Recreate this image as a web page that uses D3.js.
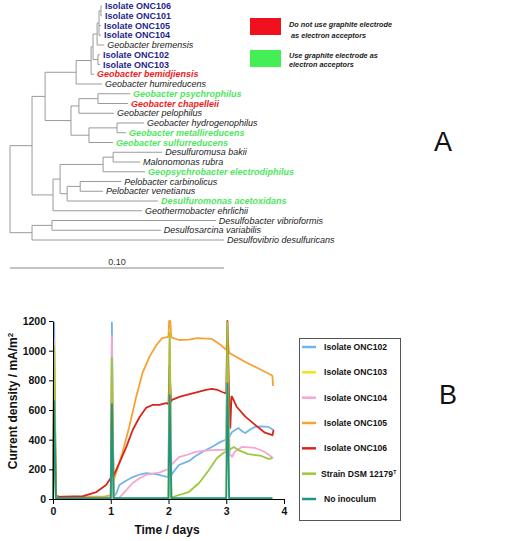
<!DOCTYPE html>
<html><head><meta charset="utf-8">
<script src="https://cdn.jsdelivr.net/npm/d3@7"></script>
<style>body{margin:0;background:#fff}svg{display:block}text{font-family:"Liberation Sans",Arial,sans-serif}</style>
</head><body>
<script>
// ---------- Panel A: tree data [id, parent, branch length, group] ----------
const treeNodes = [
  ["R", null, 0, null],
  ["N1", "R", 0.0103, null],
  ["G", "N1", 0.0061, null],
  ["G1", "G", 0.0145, null],
  ["E", "G1", 0.0070, null],
  ["Dn", "E", 0.0009, null],
  ["C", "Dn", 0.0019, null],
  ["B", "C", 0.0009, null],
  ["A", "B", 0.0009, null],
  ["Isolate ONC106", "A", 0.0005, "isolate"],
  ["Isolate ONC101", "A", 0.0005, "isolate"],
  ["Isolate ONC105", "B", 0.0009, "isolate"],
  ["Isolate ONC104", "B", 0.0009, "isolate"],
  ["Geobacter bremensis", "C", 0.0033, "other"],
  ["F", "Dn", 0.0023, null],
  ["Isolate ONC102", "F", 0.0009, "isolate"],
  ["Isolate ONC103", "F", 0.0009, "isolate"],
  ["Geobacter bemidjiensis", "E", 0.0014, "no"],
  ["Geobacter humireducens", "G1", 0.0121, "other"],
  ["G2", "G", 0.0121, null],
  ["G2a", "G2", 0.0037, null],
  ["H", "G2a", 0.0089, null],
  ["Geobacter psychrophilus", "H", 0.0150, "yes"],
  ["Geobacter chapelleii", "H", 0.0140, "no"],
  ["Geobacter pelophilus", "G2a", 0.0164, "other"],
  ["G2b", "G2", 0.0084, null],
  ["I", "G2b", 0.0131, null],
  ["Geobacter hydrogenophilus", "I", 0.0126, "other"],
  ["Geobacter metallireducens", "I", 0.0042, "yes"],
  ["Geobacter sulfurreducens", "G2b", 0.0112, "yes"],
  ["Dc", "N1", 0.0098, null],
  ["D1", "Dc", 0.0033, null],
  ["D2", "D1", 0.0201, null],
  ["D2a", "D2", 0.0047, null],
  ["Desulfuromusa bakii", "D2a", 0.0229, "other"],
  ["Malonomonas rubra", "D2a", 0.0126, "other"],
  ["Geopsychrobacter electrodiphilus", "D2", 0.0196, "yes"],
  ["D3", "D1", 0.0033, null],
  ["D3a", "D3", 0.0061, null],
  ["Pelobacter carbinolicus", "D3a", 0.0192, "other"],
  ["Pelobacter venetianus", "D3a", 0.0107, "other"],
  ["Desulfuromonas acetoxidans", "D3", 0.0425, "yes"],
  ["Geothermobacter ehrlichii", "Dc", 0.0416, "other"],
  ["N2", "R", 0.0103, null],
  ["N2a", "N2", 0.0093, null],
  ["Desulfobacter vibrioformis", "N2a", 0.0766, "other"],
  ["Desulfosarcina variabilis", "N2a", 0.0509, "other"],
  ["Desulfovibrio desulfuricans", "N2", 0.0897, "other"]
];
const scaleBarValue = 0.10;
const treeLegend = [
  ["no", ["Do not use graphite electrode", " as electron acceptors"]],
  ["yes", ["Use graphite electrode as", "electron acceptors"]]
];

// ---------- Panel B: current density series [time (days), mA/m2] ----------
const seriesNames = ["Isolate ONC102","Isolate ONC103","Isolate ONC104","Isolate ONC105","Isolate ONC106","Strain DSM 12179","No inoculum"];
const onc102 = [[0,0],[0.02,1190],[0.05,20],[0.1,5],[0.5,3],[1.0,3],[1.02,1190],[1.05,15],[1.1,40],[1.15,94],[1.25,120],[1.38,148],[1.5,165],[1.61,175],[1.75,170],[1.84,162],[1.96,150],[2.0,150],[2.02,1000],[2.05,160],[2.1,190],[2.18,229],[2.35,255],[2.47,290],[2.6,320],[2.75,351],[2.9,385],[2.98,398],[3.0,400],[3.02,900],[3.05,420],[3.1,452],[3.21,479],[3.28,455],[3.33,445],[3.42,470],[3.5,486],[3.6,490],[3.73,486],[3.82,465]];
const onc103 = [[0,0],[0.02,1050],[0.05,5],[1.0,4],[1.02,1000],[1.05,4],[2.0,4],[2.02,1050],[2.05,4],[3.0,4],[3.02,1000],[3.05,4],[3.8,4]];
const onc104 = [[0,0],[0.02,1080],[0.05,15],[0.1,5],[1.0,3],[1.02,1100],[1.05,5],[1.15,10],[1.27,60],[1.38,108],[1.5,140],[1.61,162],[1.75,172],[1.84,178],[1.96,196],[2.0,200],[2.02,1100],[2.05,230],[2.1,250],[2.18,283],[2.3,295],[2.47,317],[2.6,325],[2.75,330],[2.95,332],[3.0,335],[3.02,1000],[3.06,300],[3.1,285],[3.15,320],[3.27,351],[3.4,348],[3.5,344],[3.67,317],[3.81,276]];
const onc105 = [[0,0],[0.02,900],[0.05,25],[0.1,18],[0.5,15],[0.9,18],[1.0,25],[1.02,800],[1.05,130],[1.07,148],[1.2,310],[1.32,485],[1.44,688],[1.55,850],[1.67,958],[1.79,1038],[1.89,1085],[1.98,1092],[2.0,1100],[2.01,1200],[2.03,1200],[2.05,1090],[2.18,1072],[2.35,1075],[2.5,1085],[2.75,1079],[2.9,1040],[3.0,1005],[3.02,1100],[3.05,985],[3.33,924],[3.61,870],[3.78,836],[3.8,830],[3.81,762]];
const onc106 = [[0,0],[0.02,800],[0.05,20],[0.1,15],[0.52,20],[0.75,47],[0.92,94],[1.0,142],[1.02,700],[1.04,150],[1.15,243],[1.27,351],[1.38,465],[1.5,553],[1.61,614],[1.72,634],[1.84,634],[1.96,647],[2.0,640],[2.02,900],[2.04,655],[2.06,668],[2.2,690],[2.35,705],[2.5,720],[2.65,735],[2.75,742],[2.85,735],[2.95,718],[3.0,712],[3.02,1200],[3.05,690],[3.07,480],[3.09,690],[3.1,690],[3.18,622],[3.33,555],[3.5,500],[3.67,447],[3.8,430],[3.82,465]];
const dsm12179 = [[0,0],[0.02,1030],[0.05,20],[0.1,3],[1.0,3],[1.02,950],[1.05,3],[2.0,3],[2.02,1120],[2.05,10],[2.18,27],[2.35,47],[2.53,108],[2.7,196],[2.84,276],[2.95,310],[3.0,320],[3.02,1190],[3.05,330],[3.13,351],[3.21,330],[3.38,303],[3.61,290],[3.73,270],[3.8,276]];
const noInoculum = [[0,0],[0.02,660],[0.05,5],[1.0,5],[1.02,640],[1.05,5],[2.0,5],[2.02,700],[2.05,5],[3.0,5],[3.02,780],[3.05,5],[3.8,5]];
const seriesData = [onc102, onc103, onc104, onc105, onc106, dsm12179, noInoculum];
const xTicks = [0,1,2,3,4];
const yTicks = [0,200,400,600,800,1000,1200];

// ---------- styles ----------
const seriesColors = ["#74b4ea","#f2e21e","#f4a6d4","#f6a334","#d9261c","#9cc93a","#1d9688"];
const groupColors = {isolate:"#1f1f8f", no:"#ee1c25", yes:"#4fe65f", other:"#222"};
const legendFill = {no:"#f0101e", yes:"#44ee55"};

const svg = d3.select("body").append("svg").attr("width",510).attr("height",541);

// ===== Panel A =====
const root = d3.stratify().id(d=>d[0]).parentId(d=>d[1])(treeNodes);
root.eachBefore(n => { n.dist = n.parent ? n.parent.dist + n.data[2] : 0; });
const leaves = root.leaves();
const tx = d3.scaleLinear().domain([0, 0.1]).range([10, 224]);
const ty = d3.scaleLinear().domain([0, leaves.length-1]).range([6, 240]);
leaves.forEach((l,i)=>{ l.py = ty(i); });
root.eachAfter(n => { if (n.children) n.py = (n.children[0].py + n.children[n.children.length-1].py)/2; });

const gT = svg.append("g");
root.descendants().forEach(n => {
  if (n.parent) gT.append("line").attr("x1", tx(n.parent.dist)).attr("x2", tx(n.dist))
      .attr("y1", n.py).attr("y2", n.py).attr("stroke","#9a9a9a").attr("stroke-width",1);
  if (n.children) gT.append("line").attr("x1", tx(n.dist)).attr("x2", tx(n.dist))
      .attr("y1", n.children[0].py).attr("y2", n.children[n.children.length-1].py)
      .attr("stroke","#9a9a9a").attr("stroke-width",1);
});
leaves.forEach(l => {
  const g = l.data[3];
  gT.append("text").attr("x", tx(l.dist)+3).attr("y", l.py).attr("dy","0.35em")
    .attr("font-size", 9)
    .attr("font-weight", g==="other" ? "normal" : "bold")
    .attr("font-style", g==="isolate" ? "normal" : "italic")
    .attr("fill", groupColors[g]).text(l.id);
});
// scale bar
gT.append("line").attr("x1", tx(0)).attr("x2", tx(scaleBarValue)).attr("y1",268).attr("y2",268)
  .attr("stroke","#888").attr("stroke-width",1);
gT.append("text").attr("x",(tx(0)+tx(scaleBarValue))/2).attr("y",262).attr("dy","0.35em")
  .attr("text-anchor","middle").attr("font-size",9).attr("fill","#333").text(scaleBarValue.toFixed(2));
// tree legend
const legTop = [18, 50], legText = [[24,35],[55,64]];
treeLegend.forEach((d,i)=>{
  gT.append("rect").attr("x",250).attr("y",legTop[i]).attr("width",31).attr("height",17).attr("fill",legendFill[d[0]]);
  d[1].forEach((t,j)=>{
    gT.append("text").attr("x",289).attr("y",legText[i][j]).attr("dy","0.35em")
      .attr("font-size",7.3).attr("font-weight","bold").attr("font-style","italic")
      .attr("fill","#222").attr("xml:space","preserve").text(t);
  });
});
svg.append("text").attr("x",443).attr("y",142).attr("dy","0.35em").attr("text-anchor","middle")
  .attr("font-size",27).attr("fill","#111").text("A");

// ===== Panel B =====
const x = d3.scaleLinear().domain([0,4]).range([53,284]);
const y = d3.scaleLinear().domain([0,1200]).range([499,321]);
const gB = svg.append("g");
const line = d3.line().x(d=>x(d[0])).y(d=>y(d[1]));
seriesData.forEach((s,i)=>{
  gB.append("path").attr("d", line(s)).attr("fill","none").attr("stroke", seriesColors[i])
    .attr("stroke-width",1.8).attr("stroke-linejoin","round");
});
const yAx = gB.append("g").attr("transform","translate(53,0)")
  .call(d3.axisLeft(y).tickValues(yTicks).tickSize(4).tickSizeOuter(0).tickFormat(d3.format("d")));
const xAx = gB.append("g").attr("transform","translate(0,499)")
  .call(d3.axisBottom(x).tickValues(xTicks).tickSize(5).tickSizeOuter(0).tickFormat(d3.format("d")));
[yAx,xAx].forEach(a=>{
  a.select(".domain").attr("stroke","#000").attr("stroke-width",1);
  a.selectAll(".tick line").attr("stroke","#000");
  a.selectAll("text").attr("font-family",'"Liberation Sans",Arial,sans-serif')
    .attr("font-size",10.5).attr("font-weight","bold").attr("fill","#111");
});
yAx.selectAll("text").attr("x",-7);
xAx.selectAll("text").attr("y",9);
gB.append("text").attr("transform","translate(13,401) rotate(-90)").attr("text-anchor","middle")
  .attr("dy","0.35em").attr("font-size",12).attr("font-weight","bold").attr("fill","#111")
  .text("Current density / mA/m").append("tspan").attr("baseline-shift","super").attr("font-size",8).text("2");
gB.append("text").attr("x",167).attr("y",530).attr("dy","0.35em").attr("text-anchor","middle")
  .attr("font-size",12).attr("font-weight","bold").attr("fill","#111").text("Time / days");

// legend
gB.append("rect").attr("x",299.5).attr("y",338.5).attr("width",101).attr("height",182)
  .attr("fill","#fff").attr("stroke","#555").attr("stroke-width",1);
const legY = d3.scalePoint().domain(seriesNames).range([347,499]);
seriesNames.forEach((n,i)=>{
  gB.append("line").attr("x1",302).attr("x2",316).attr("y1",legY(n)).attr("y2",legY(n))
    .attr("stroke",seriesColors[i]).attr("stroke-width",2.5);
  const t = gB.append("text").attr("x", n.startsWith("Strain") ? 321 : 324).attr("y",legY(n)).attr("dy","0.35em")
    .attr("font-size",8.6).attr("font-weight","bold").attr("fill","#111").text(n);
  if (n.startsWith("Strain")) t.append("tspan").attr("baseline-shift","super").attr("font-size",5).text("T");
});
svg.append("text").attr("x",448).attr("y",395).attr("dy","0.35em").attr("text-anchor","middle")
  .attr("font-size",27).attr("fill","#111").text("B");
</script></body></html>
